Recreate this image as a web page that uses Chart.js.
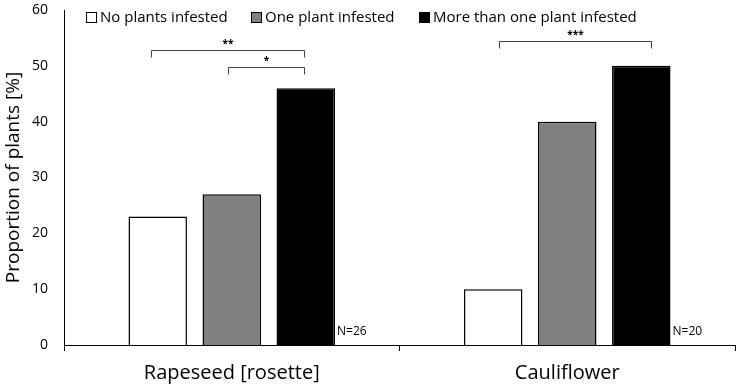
<!DOCTYPE html>
<html>
  <head>
    <meta charset="UTF-8" />
    <title>Proportion of plants</title>
    <style>
      html, body { margin: 0; padding: 0; background: #fff; }
      #wrap { position: relative; width: 737px; height: 386px; }
    </style>
  </head>
  <body>
    <div id="wrap">
      <canvas id="chart"></canvas>
    </div>
    <script src="https://cdn.jsdelivr.net/npm/chart.js@4.4.0/dist/chart.umd.min.js"></script>
    <script>
      const categories = ["Rapeseed [rosette]", "Cauliflower"];
      const seriesNames = ["No plants infested", "One plant infested", "More than one plant infested"];
      const noneInfested = [23, 10];
      const oneInfested = [27, 40];
      const moreInfested = [46, 50];
      const sampleSizes = ["N=26", "N=20"];
      const yTicks = [0, 10, 20, 30, 40, 50, 60];
      // significance brackets: category, first/last bar (with a nudge in bar widths), level, stars
      const brackets = [
        { cat: 0, from: 0, fromNudge: -0.11, to: 2, toNudge: -0.03, y: 52.9, label: "**" },
        { cat: 0, from: 1, fromNudge: -0.06, to: 2, toNudge: -0.03, y: 49.8, label: "*" },
        { cat: 1, from: 0, fromNudge: 0.1, to: 2, toNudge: 0.17, y: 54.5, label: "***" }
      ];

      const fontFamily = "'Open Sans', 'Noto Sans', sans-serif";

      // legend drawn inside the plot area, like the original
      const innerLegend = {
        id: "innerLegend",
        afterDraw(chart) {
          const ctx = chart.ctx;
          ctx.save();
          ctx.font = "15px " + fontFamily;
          ctx.textBaseline = "middle";
          const y = 18;
          const starts = [86, 251, 419];
          chart.data.datasets.forEach((ds, i) => {
            const x = starts[i];
            ctx.fillStyle = ds.backgroundColor;
            ctx.fillRect(x, y - 6, 11, 11);
            ctx.strokeStyle = "#000";
            ctx.lineWidth = 1;
            ctx.strokeRect(x + 0.5, y - 5.5, 10, 10);
            ctx.fillStyle = "#000";
            ctx.textAlign = "left";
            ctx.fillText(ds.label, x + 14, y);
          });
          ctx.restore();
        }
      };

      const annotations = {
        id: "annotations",
        afterDatasetsDraw(chart) {
          const ctx = chart.ctx;
          const yScale = chart.scales.y;
          ctx.save();
          ctx.strokeStyle = "#444";
          ctx.lineWidth = 1;
          ctx.fillStyle = "#000";
          brackets.forEach((b) => {
            const a = chart.getDatasetMeta(b.from).data[b.cat];
            const c = chart.getDatasetMeta(b.to).data[b.cat];
            const x1 = Math.round(a.x + b.fromNudge * a.width) + 0.5;
            const x2 = Math.round(c.x + b.toNudge * c.width) + 0.5;
            const y = Math.round(yScale.getPixelForValue(b.y)) + 0.5;
            ctx.beginPath();
            ctx.moveTo(x1, y + 7);
            ctx.lineTo(x1, y);
            ctx.lineTo(x2, y);
            ctx.lineTo(x2, y + 7);
            ctx.stroke();
            ctx.font = "bold 10px " + fontFamily;
            ctx.textAlign = "center";
            ctx.textBaseline = "bottom";
            ctx.fillText(b.label, (x1 + x2) / 2, y - 1);
          });
          ctx.font = "12px " + fontFamily;
          ctx.textAlign = "left";
          ctx.textBaseline = "middle";
          sampleSizes.forEach((n, i) => {
            const bar = chart.getDatasetMeta(2).data[i];
            ctx.fillText(n, bar.x + bar.width / 2 + 2, yScale.getPixelForValue(0) - 13);
          });
          ctx.restore();
        }
      };

      const data = {
        labels: categories,
        datasets: [
          { label: seriesNames[0], data: noneInfested, backgroundColor: "#ffffff", borderColor: "#000", borderWidth: 1.5 },
          { label: seriesNames[1], data: oneInfested, backgroundColor: "#808080", borderColor: "#000", borderWidth: 1.5 },
          { label: seriesNames[2], data: moreInfested, backgroundColor: "#000000", borderColor: "#000", borderWidth: 1.5 }
        ]
      };

      new Chart(document.getElementById("chart"), {
        type: "bar",
        data: data,
        options: {
          responsive: true,
          maintainAspectRatio: false,
          animation: false,
          categoryPercentage: 0.662,
          barPercentage: 0.79,
          layout: { padding: { top: 10, right: 2, left: 2, bottom: -9 } },
          plugins: {
            legend: { display: false },
            tooltip: { enabled: false }
          },
          scales: {
            x: {
              grid: {
                offset: true,
                drawOnChartArea: false,
                color: "#000",
                tickLength: 6
              },
              border: { color: "#000", width: 1 },
              ticks: {
                color: "#000",
                padding: 10,
                font: { family: fontFamily, size: 20 }
              }
            },
            y: {
              min: 0,
              max: 60,
              afterBuildTicks(axis) {
                axis.ticks = yTicks.map((v) => ({ value: v }));
              },
              afterFit(axis) {
                axis.width = 62;
                axis.paddingTop = 0;
                axis.paddingBottom = 0;
              },
              grid: { display: false, drawTicks: false },
              border: { color: "#000", width: 1 },
              ticks: {
                color: "#000",
                padding: 16,
                font: { family: fontFamily, size: 14 }
              },
              title: {
                display: true,
                text: "Proportion of plants [%]",
                color: "#000",
                padding: { top: 0, bottom: 4 },
                font: { family: fontFamily, size: 19 }
              }
            }
          }
        },
        plugins: [innerLegend, annotations]
      });
    </script>
  </body>
</html>
